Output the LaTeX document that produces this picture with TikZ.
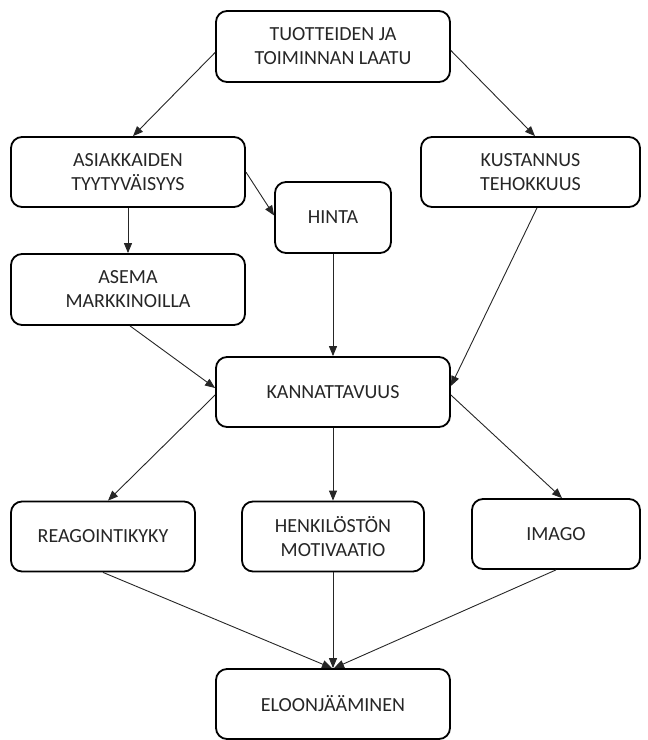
\documentclass[tikz,border=0pt]{standalone}
\usepackage{fontspec}
\setmainfont{Carlito}
\usetikzlibrary{arrows.meta}
\tikzset{
  box/.style={draw=black, line width=1.8pt, rounded corners=11pt, fill=white,
    align=center, text=black!85, inner sep=0pt,
    font=\fontsize{20}{24}\selectfont},
  arr/.style={draw=black!85, line width=0.9pt,
    -{Triangle[length=10pt,width=8pt]}}
}
\begin{document}
\begin{tikzpicture}[x=1pt,y=-1pt]
  \useasboundingbox (0,0) rectangle (648,740);

  % boxes
  \node[box, minimum width=234pt, minimum height=71pt] (laatu) at (333,46.5) {TUOTTEIDEN JA\\TOIMINNAN LAATU};
  \node[box, minimum width=234pt, minimum height=70pt] (asiak) at (128,172) {ASIAKKAIDEN\\TYYTYVÄISYYS};
  \node[box, minimum width=116pt, minimum height=71pt] (hinta) at (333,217.5) {HINTA};
  \node[box, minimum width=219pt, minimum height=70pt] (kust) at (530.5,172) {KUSTANNUS\\TEHOKKUUS};
  \node[box, minimum width=234pt, minimum height=71pt] (asema) at (128,289.5) {ASEMA\\MARKKINOILLA};
  \node[box, minimum width=234pt, minimum height=70pt] (kann) at (333,392) {KANNATTAVUUS};
  \node[box, minimum width=184pt, minimum height=70pt] (reag) at (103,536.5) {REAGOINTIKYKY};
  \node[box, minimum width=182pt, minimum height=70pt] (henk) at (333,536.5) {HENKILÖSTÖN\\MOTIVAATIO};
  \node[box, minimum width=168pt, minimum height=70pt] (imago) at (556,534) {IMAGO};
  \node[box, minimum width=234pt, minimum height=70pt] (eloon) at (333,704) {ELOONJÄÄMINEN};

  % connectors
  \draw[arr] ([yshift=-6pt]laatu.west) -- ([xshift=5pt]asiak.north);
  \draw[arr] ([yshift=-4pt]laatu.east) -- ([xshift=4.5pt]kust.north);
  \draw[arr] (asiak.east) -- ([yshift=2pt]hinta.west);
  \draw[arr] (asiak.south) -- (asema.north);
  \draw[arr] (hinta.south) -- (kann.north);
  \draw[arr] ([xshift=6.5pt]kust.south) -- ([yshift=6pt]kann.east);
  \draw[arr] ([xshift=2pt]asema.south) -- ([yshift=4pt]kann.west);
  \draw[arr] ([yshift=-3pt]kann.west) -- ([xshift=5pt]reag.north);
  \draw[arr] (kann.south) -- (henk.north);
  \draw[arr] ([yshift=-3pt]kann.east) -- ([xshift=6pt]imago.north);
  \draw[arr] (reag.south) -- ([xshift=-1pt]eloon.north);
  \draw[arr] (henk.south) -- (eloon.north);
  \draw[arr] (imago.south) -- ([xshift=1pt]eloon.north);
\end{tikzpicture}
\end{document}
